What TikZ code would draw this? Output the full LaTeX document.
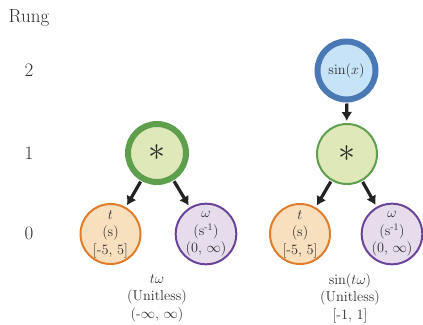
\RequirePackage{fix-cm}
\documentclass[tikz,border=0pt]{standalone}
\usetikzlibrary{arrows.meta}

\definecolor{txt}{HTML}{2E2E2E}
\definecolor{arrowc}{HTML}{222222}
\definecolor{greenfill}{HTML}{DFE8B8}
\definecolor{greenline}{HTML}{5E9F4E}
\definecolor{bluefill}{HTML}{C6E3F8}
\definecolor{blueline}{HTML}{4A78B4}
\definecolor{orangefill}{HTML}{F8DFBE}
\definecolor{orangeline}{HTML}{E07D2C}
\definecolor{purplefill}{HTML}{E6DCEC}
\definecolor{purpleline}{HTML}{6B4499}

\newcommand{\rungfont}{\fontsize{19}{22}\selectfont}
\newcommand{\nodefont}{\fontsize{14.3}{17.5}\selectfont}
\newcommand{\opfont}{\fontsize{34}{34}\selectfont}

\tikzset{
  x=1pt, y=-1pt,
  rung/.style={text=txt, font=\rungfont, inner sep=0pt},
  ring/.style={circle, inner sep=0pt, align=center, text=txt, font=\nodefont},
  thinring/.style={ring, minimum size=60pt, line width=2pt},
  thickring/.style={ring, minimum size=58pt, line width=6pt},
  opnode/.style={draw=greenline, fill=greenfill},
  sinnode/.style={draw=blueline, fill=bluefill},
  timenode/.style={thinring, draw=orangeline, fill=orangefill},
  freqnode/.style={thinring, draw=purpleline, fill=purplefill},
  caption/.style={align=center, text=txt, font=\nodefont, inner sep=0pt},
  arr/.style={draw=arrowc, line width=3.2pt,
    -{Latex[length=9pt,width=11pt]}, shorten >=2pt, shorten <=1pt},
}

\begin{document}
\begin{tikzpicture}
\useasboundingbox (0,0) rectangle (423,324);

% rung axis
\node[rung] (rungtitle) at (29,18) {Rung};
\node[rung] (r2) at (29,70) {2};
\node[rung] (r1) at (29,153) {1};
\node[rung] (r0) at (29,233) {0};

% left expression tree: t * omega
\node[thickring, opnode] (lstar) at (157,153) {\opfont$\ast$};
\node[timenode] (lt) at (110.5,234) {$t$\\(s)\\{}[-5, 5]};
\node[freqnode] (lw) at (206,234) {$\omega$\\(s\textsuperscript{-1})\\(0, $\infty$)};
\draw[arr] (lstar) -- (lt);
\draw[arr] (lstar) -- (lw);
\node[caption] (lcap) at (157,298) {$t\omega$\\(Unitless)\\(-$\infty$, $\infty$)};

% right expression tree: sin(t * omega)
\node[thickring, sinnode] (rsin) at (346.5,70.5) {$\sin(x)$};
\node[thinring, opnode] (rstar) at (347,154) {\opfont$\ast$};
\node[timenode] (rt) at (300,234) {$t$\\(s)\\{}[-5, 5]};
\node[freqnode] (rw) at (392,234) {$\omega$\\(s\textsuperscript{-1})\\(0, $\infty$)};
\draw[arr] (rsin) -- (rstar);
\draw[arr] (rstar) -- (rt);
\draw[arr] (rstar) -- (rw);
\node[caption] (rcap) at (350,298) {$\sin(t\omega)$\\(Unitless)\\{}[-1, 1]};
\end{tikzpicture}
\end{document}
